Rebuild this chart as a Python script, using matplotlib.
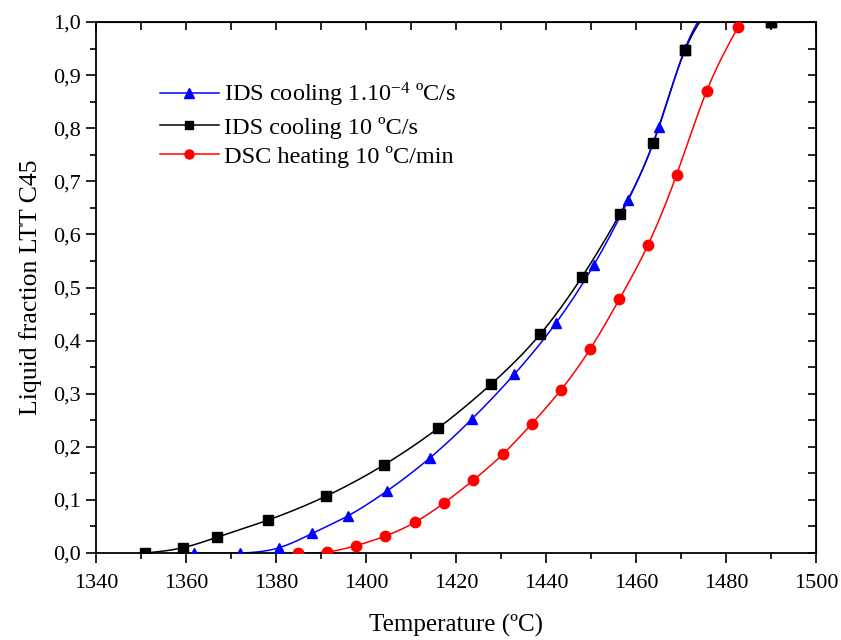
import matplotlib
matplotlib.use("Agg")
import matplotlib.pyplot as plt
import numpy as np
from matplotlib.ticker import MultipleLocator, FuncFormatter

# data
ids_slow_t = [1361.8, 1371.9, 1380.7, 1388.1, 1396.0, 1404.7, 1414.2, 1423.5,
              1433.0, 1442.2, 1450.6, 1458.3, 1465.1, 1470.9, 1490.0]
ids_slow_f = [0.0, 0.0, 0.010, 0.037, 0.070, 0.117, 0.179, 0.252,
              0.337, 0.433, 0.542, 0.665, 0.802, 0.950, 1.0]

ids_fast_t = [1350.9, 1359.3, 1367.0, 1378.2, 1391.1, 1404.0, 1416.0, 1427.8,
              1438.7, 1448.0, 1456.4, 1463.8, 1470.9, 1490.0]
ids_fast_f = [0.0, 0.010, 0.030, 0.062, 0.107, 0.166, 0.235, 0.318,
              0.412, 0.520, 0.638, 0.772, 0.947, 1.0]

dsc_t = [1385.0, 1391.4, 1397.8, 1404.3, 1410.9, 1417.3, 1423.8, 1430.4,
         1436.8, 1443.3, 1449.8, 1456.3, 1462.7, 1469.0, 1475.7, 1482.7]
dsc_f = [0.0, 0.002, 0.014, 0.032, 0.058, 0.094, 0.137, 0.186,
         0.243, 0.307, 0.384, 0.478, 0.581, 0.712, 0.870, 0.991]

labels = ["IDS cooling 1.10$^{-4}$ ºC/s", "IDS cooling 10 ºC/s",
          "DSC heating 10 ºC/min"]


def spline(x, y, n=400):
    """Natural cubic spline through the points, for a smooth drawn line."""
    x = np.asarray(x, float)
    y = np.asarray(y, float)
    k = len(x)
    h = np.diff(x)
    A = np.zeros((k, k))
    b = np.zeros(k)
    A[0, 0] = A[-1, -1] = 1.0
    for i in range(1, k - 1):
        A[i, i - 1] = h[i - 1]
        A[i, i] = 2 * (h[i - 1] + h[i])
        A[i, i + 1] = h[i]
        b[i] = 6 * ((y[i + 1] - y[i]) / h[i] - (y[i] - y[i - 1]) / h[i - 1])
    M = np.linalg.solve(A, b)
    xs = np.linspace(x[0], x[-1], n)
    j = np.clip(np.searchsorted(x, xs) - 1, 0, k - 2)
    dx1 = x[j + 1] - xs
    dx0 = xs - x[j]
    hj = h[j]
    ys = (M[j] * dx1 ** 3 / (6 * hj) + M[j + 1] * dx0 ** 3 / (6 * hj)
          + (y[j] / hj - M[j] * hj / 6) * dx1
          + (y[j + 1] / hj - M[j + 1] * hj / 6) * dx0)
    return xs, ys


plt.rcParams["font.family"] = "Liberation Serif"
plt.rcParams["mathtext.fontset"] = "custom"
plt.rcParams["mathtext.rm"] = "Liberation Serif"
plt.rcParams["mathtext.it"] = "Liberation Serif:italic"

fig = plt.figure(figsize=(8.41, 6.40), dpi=100)
ax = fig.add_axes([0.1141, 0.1359, 0.8562, 0.8297])

series = [
    (ids_fast_t, ids_fast_f, "black", "s", 6.5, labels[1]),
    (ids_slow_t, ids_slow_f, "#0000ff", "^", 7.5, labels[0]),
    (dsc_t, dsc_f, "#ff0000", "o", 7.5, labels[2]),
]
handles = {}
for t, f, col, mk, ms, lab in series:
    xs, ys = spline(t, f)
    ax.plot(xs, ys, color=col, lw=1.1, zorder=2)
    ax.plot(t, f, ls="none", marker=mk, ms=ms, color=col, zorder=3)
    handles[lab] = ax.plot([], [], color=col, lw=1.1, marker=mk, ms=ms - 1)[0]

# black on top near the upper end, as in the reference
ax.plot(ids_fast_t[-2:], ids_fast_f[-2:], ls="none", marker="s", ms=6.5,
        color="black", zorder=4)

ax.set_xlim(1340, 1500)
ax.set_ylim(0, 1.0)
ax.xaxis.set_major_locator(MultipleLocator(20))
ax.xaxis.set_minor_locator(MultipleLocator(10))
ax.yaxis.set_major_locator(MultipleLocator(0.1))
ax.yaxis.set_minor_locator(MultipleLocator(0.05))
ax.yaxis.set_major_formatter(FuncFormatter(lambda v, p: f"{v:.1f}".replace(".", ",")))
ax.tick_params(which="major", direction="out", length=7, width=1.2, labelsize=16)
ax.tick_params(which="minor", direction="out", length=4, width=1.2)
ax.tick_params(axis="x", pad=8)
ax.tick_params(axis="y", pad=4)

for s in ax.spines.values():
    s.set_linewidth(1.3)

top = ax.secondary_xaxis("top")
top.xaxis.set_major_locator(MultipleLocator(10))
top.tick_params(direction="in", length=6, width=1.2, labeltop=False)
right = ax.secondary_yaxis("right")
right.yaxis.set_major_locator(MultipleLocator(0.05))
right.tick_params(direction="in", length=6, width=1.2, labelright=False)

ax.set_xlabel("Temperature (ºC)", fontsize=18, labelpad=15)
ax.set_ylabel("Liquid fraction LTT C45", fontsize=18.5, labelpad=8)

ax.legend([handles[l] for l in labels], labels, loc="upper left",
          bbox_to_anchor=(0.075, 0.907), frameon=False, fontsize=17.5,
          handlelength=2.45, handletextpad=0.2, labelspacing=0.3,
          borderaxespad=0)

fig.savefig("out.png", dpi=100)
